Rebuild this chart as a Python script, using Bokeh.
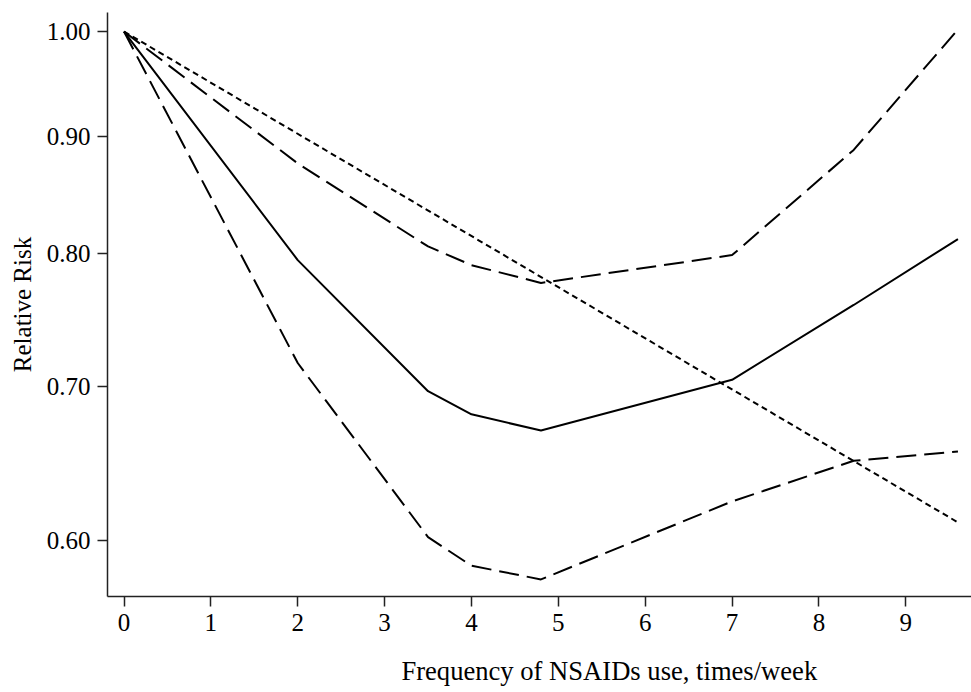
from bokeh.plotting import figure
from bokeh.models import Range1d, FixedTicker, PrintfTickFormatter
from bokeh.embed import file_html
from bokeh.resources import INLINE

# Frequency of NSAIDs use (times/week) at the spline knots
freq = [0, 2, 3.5, 4, 4.8, 7, 8.4, 9.6]
# Relative risk estimate (solid) and 95% CI bounds (long dash)
rr = [1.00, 0.795, 0.697, 0.681, 0.670, 0.705, 0.760, 0.812]
rr_upper = [1.00, 0.876, 0.806, 0.791, 0.777, 0.799, 0.888, 1.002]
rr_lower = [1.00, 0.717, 0.602, 0.585, 0.577, 0.624, 0.650, 0.656]
# Linear (log-linear) trend, dotted
freq_lin = [0, 9.6]
rr_lin = [1.00, 0.611]

x_ticks = [0, 1, 2, 3, 4, 5, 6, 7, 8, 9]
y_ticks = [0.60, 0.70, 0.80, 0.90, 1.00]
x_label = "Frequency of NSAIDs use, times/week"
y_label = "Relative Risk"

FONT = "Liberation Serif"

p = figure(width=971, height=692, y_axis_type="log",
           x_range=Range1d(-0.19, 9.756), y_range=Range1d(0.5672, 1.0193),
           output_backend="svg", toolbar_location=None,
           min_border_left=107, min_border_right=0, min_border_top=12,
           min_border_bottom=96)
p.outline_line_color = None
p.background_fill_color = "white"
p.border_fill_color = "white"
p.xgrid.visible = False
p.ygrid.visible = False

p.line(freq, rr, line_color="black", line_width=2)
p.line(freq, rr_upper, line_color="black", line_width=2, line_dash="20 8")
p.line(freq, rr_lower, line_color="black", line_width=2, line_dash="20 8")
p.line(freq_lin, rr_lin, line_color="black", line_width=2, line_dash="6 4")

for ax in (p.xaxis[0], p.yaxis[0]):
    ax.axis_line_color = "#222222"
    ax.axis_line_width = 1.5
    ax.major_tick_line_color = "#222222"
    ax.major_tick_line_width = 1.5
    ax.major_tick_out = 10
    ax.major_tick_in = 0
    ax.minor_tick_line_color = None
    ax.major_label_text_font = FONT
    ax.major_label_text_font_size = "25px"
    ax.major_label_text_color = "black"
    ax.axis_label_text_font = FONT
    ax.axis_label_text_font_style = "normal"
    ax.axis_label_text_color = "black"

p.xaxis.ticker = FixedTicker(ticks=x_ticks)
p.xaxis.major_label_standoff = 7
# the original label sits right of the frame centre: pad with no-break spaces
p.xaxis.axis_label = "\u00a0" * 21 + x_label
p.xaxis.axis_label_text_font_size = "26.6px"
p.xaxis.axis_label_standoff = 22

p.yaxis.ticker = FixedTicker(ticks=y_ticks)
p.yaxis.formatter = PrintfTickFormatter(format="%.2f")
p.yaxis.major_label_standoff = 7
p.yaxis.axis_label = y_label
p.yaxis.axis_label_text_font_size = "25px"
p.yaxis.axis_label_standoff = 8

open("out.html", "w").write(file_html(p, INLINE))
